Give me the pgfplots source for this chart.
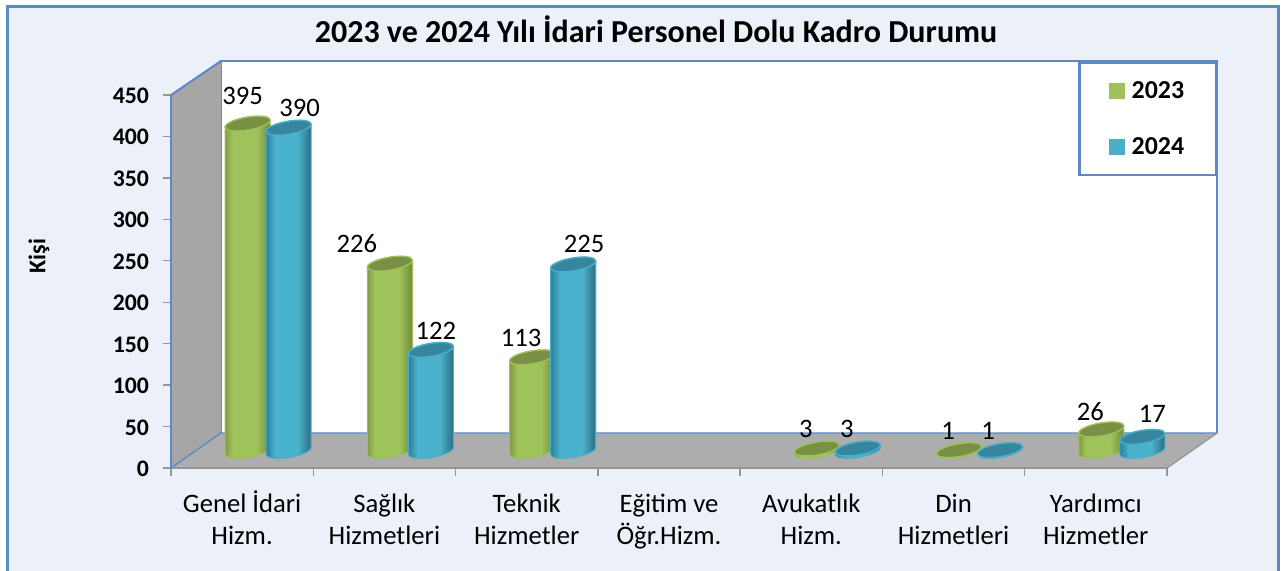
\documentclass[border=0pt]{standalone}
\usepackage{pgfplots}
\pgfplotsset{compat=1.18}
\usepackage{pgfplotstable}
\usepackage{fontspec}
\setmainfont{Carlito}
\definecolor{frameB}{HTML}{5B89C4}
\definecolor{bgB}{HTML}{EBF0F9}
\definecolor{wallG}{HTML}{A6A6A6}
\definecolor{floorG}{HTML}{ADADAD}
\definecolor{axG}{HTML}{959595}
\definecolor{gE}{HTML}{7F9B45}
\definecolor{gM}{HTML}{A0C25B}
\definecolor{gD}{HTML}{6F8A3A}
\definecolor{gCap}{HTML}{7A9145}
\definecolor{gRim}{HTML}{9FC15A}
\definecolor{bE}{HTML}{2D7F9A}
\definecolor{bM}{HTML}{4AB2CC}
\definecolor{bD}{HTML}{2C6C82}
\definecolor{bCap}{HTML}{37869F}
\definecolor{bRim}{HTML}{4AAEC8}
\pgfdeclarehorizontalshading{cylG}{100bp}{color(0bp)=(gE);color(25bp)=(gE);color(33bp)=(gM);color(60bp)=(gM);color(75bp)=(gD);color(100bp)=(gD)}
\pgfdeclarehorizontalshading{cylB}{100bp}{color(0bp)=(bE);color(25bp)=(bE);color(35bp)=(bM);color(60bp)=(bM);color(75bp)=(bD);color(100bp)=(bD)}
\pgfdeclareplotmark{noop}{}
\tikzset{depthT/.style={shift={(19.5pt,12.75pt)}}}
\newcommand{\st}{\rule{0pt}{17pt}}
% category index (centre), value, label offset from the cap centre in px
\pgfplotstableread{
c   v   lx  ly
0.5 395 -5  27.6
1.5 226 -33 20
2.5 113 -11 19
4.5 3   -11 20
5.5 1   -11 19
6.5 26  -11 18
}\dataA
\pgfplotstableread{
c   v   lx  ly
0.5 390 11  20
1.5 122 5   19
2.5 225 11  21
4.5 3   -11 20
5.5 1   -12 19
6.5 17  10  23
}\dataB
\newcommand{\cyl}[3]{%
  \pgfmathsetmacro{\H}{\h*0.8289*0.75}%
  \pgfmathsetmacro{\Lx}{\lx*0.75}%
  \pgfmathsetmacro{\Ly}{\ly*0.75}%
  \pgfmathsetmacro{\yW}{10.114-\H}%
  \pgfmathsetmacro{\yA}{7.408-\H}%
  \pgfmathsetmacro{\yB}{6.394-\H}%
  \pgfmathsetmacro{\yS}{7.85-\H}%
  \pgfmathsetmacro{\yC}{9.306-\H}%
  \pgfmathsetmacro{\yD}{12.68-\H}%
  \pgfmathsetmacro{\yE}{15.386-\H}%
  \path[shading=#1,draw=#3,line width=0.8pt]
      (36.4pt,15.386pt) .. controls (36.4pt,18.092pt) and (28.834pt,19.106pt) .. (19.5pt,17.65pt)
      .. controls (10.166pt,16.194pt) and (2.6pt,12.82pt) .. (2.6pt,10.114pt)
      -- (2.6pt,\yW pt) .. controls (2.6pt,\yA pt) and (10.166pt,\yB pt) .. (19.5pt,\yS pt)
      .. controls (28.834pt,\yC pt) and (36.4pt,\yD pt) .. (36.4pt,\yE pt) -- cycle;
  \path[fill=#2,draw=#3,line width=1pt]
      (36.4pt,15.386pt) .. controls (36.4pt,18.092pt) and (28.834pt,19.106pt) .. (19.5pt,17.65pt)
      .. controls (10.166pt,16.194pt) and (2.6pt,12.82pt) .. (2.6pt,10.114pt)
      .. controls (2.6pt,7.408pt) and (10.166pt,6.394pt) .. (19.5pt,7.85pt)
      .. controls (28.834pt,9.306pt) and (36.4pt,12.68pt) .. (36.4pt,15.386pt) -- cycle;
  \node[depthT,font=\fontsize{20}{22}\selectfont,text=black,inner sep=0pt,anchor=center] at (\Lx pt,\Ly pt) {\pgfmathprintnumber[precision=0,assume math mode=true]{\h}};
}
\begin{document}
\begin{tikzpicture}
\begin{scope}[x=0.75pt,y=-0.75pt]
  \useasboundingbox (0,0) rectangle (1285,571);
  \fill[white] (0,0) rectangle (1285,571);
  \fill[bgB] (7.5,6.5) rectangle (1278.5,571);
  \draw[frameB,line width=2pt] (7.5,571) -- (7.5,6.5) -- (1278.5,6.5) -- (1278.5,571);
  % back wall
  \fill[white] (221,61) rectangle (1217,433);
  \draw[frameB,line width=1.2pt] (221,433) -- (221,61) -- (1217,61) -- (1217,433);
  % side wall
  \fill[wallG] (171,95) -- (221,61) -- (221,433) -- (171,468) -- cycle;
  % floor
  \fill[floorG] (171,468) -- (221,433) -- (1217,433) -- (1167,468) -- cycle;
  \draw[frameB,line width=1pt] (171,468) -- (221,433) -- (1217,433);
  \draw[axG,line width=1pt] (1217,433) -- (1167,468);
  \draw[frameB,line width=1.5pt] (171,95) -- (221,61);
\end{scope}
\begin{axis}[
  at={(128.25pt,-351pt)},anchor=south west,
  scale only axis,width=747pt,height=279.75pt,
  xmin=0,xmax=7,ymin=0,ymax=450,
  clip=false,
  axis x line=bottom,axis y line=left,
  x axis line style={-,axG,line width=1.6pt},
  y axis line style={-,frameB,line width=1pt},
  xtick={0,1,2,3,4,5,6,7},
  x tick label as interval,
  xticklabels={{\st Genel İdari\\Hizm.},{\st Sağlık\\Hizmetleri},{\st Teknik\\Hizmetler},{\st Eğitim ve\\Öğr.Hizm.},{\st Avukatlık\\Hizm.},{\st Din\\Hizmetleri},{\st Yardımcı\\Hizmetler}},
  ytick={0,50,...,450},
  /pgf/number format/assume math mode=true,
  tick align=outside,
  major tick length=6pt,
  tick style={axG,line width=1pt},
  x tick label style={align=center,font=\fontsize{20}{24}\selectfont,yshift=-7pt},
  y tick label style={font=\bfseries\fontsize{17.8}{20}\selectfont,xshift=-7pt,yshift=-0.6pt},
  title={\bfseries 2023 ve 2024 Yılı İdari Personel Dolu Kadro Durumu},
  title style={at={(axis description cs:0.487,1.155)},anchor=center,font=\bfseries\fontsize{24}{26}\selectfont,inner sep=0pt},
  ylabel={\bfseries Kişi},
  y label style={at={(axis description cs:-0.1325,0.568)},anchor=center,font=\bfseries\fontsize{18}{20}\selectfont,inner sep=0pt},
  legend style={at={(axis description cs:0.911,1.091)},anchor=north west,
    draw=frameB,line width=2pt,fill=white,inner xsep=22pt,inner ysep=12pt,
    font=\bfseries\fontsize{19.4}{22}\selectfont,legend cell align=left,row sep=24pt},
]
\addplot[forget plot,only marks,mark=noop,scatter,point meta=y,
  visualization depends on={\thisrow{v} \as \h},
  visualization depends on={\thisrow{lx} \as \lx},
  visualization depends on={\thisrow{ly} \as \ly},
  scatter/@pre marker code/.code={\cyl{cylG}{gCap}{gRim}},
  scatter/@post marker code/.code={}]
  table[x expr=\thisrow{c}-0.144,y=v] {\dataA};
\addplot[forget plot,only marks,mark=noop,scatter,point meta=y,
  visualization depends on={\thisrow{v} \as \h},
  visualization depends on={\thisrow{lx} \as \lx},
  visualization depends on={\thisrow{ly} \as \ly},
  scatter/@pre marker code/.code={\cyl{cylB}{bCap}{bRim}},
  scatter/@post marker code/.code={}]
  table[x expr=\thisrow{c}+0.144,y=v] {\dataB};
\addlegendimage{legend image code/.code={\path[draw=none,fill=none] (0pt,0pt) rectangle (15pt,0pt);\path[draw=none,fill=gRim] (0pt,-6pt) rectangle (12pt,6pt);}}
\addlegendentry{2023}
\addlegendimage{legend image code/.code={\path[draw=none,fill=none] (0pt,0pt) rectangle (15pt,0pt);\path[draw=none,fill=bRim] (0pt,-6pt) rectangle (12pt,6pt);}}
\addlegendentry{2024}
\end{axis}
\end{tikzpicture}
\end{document}
